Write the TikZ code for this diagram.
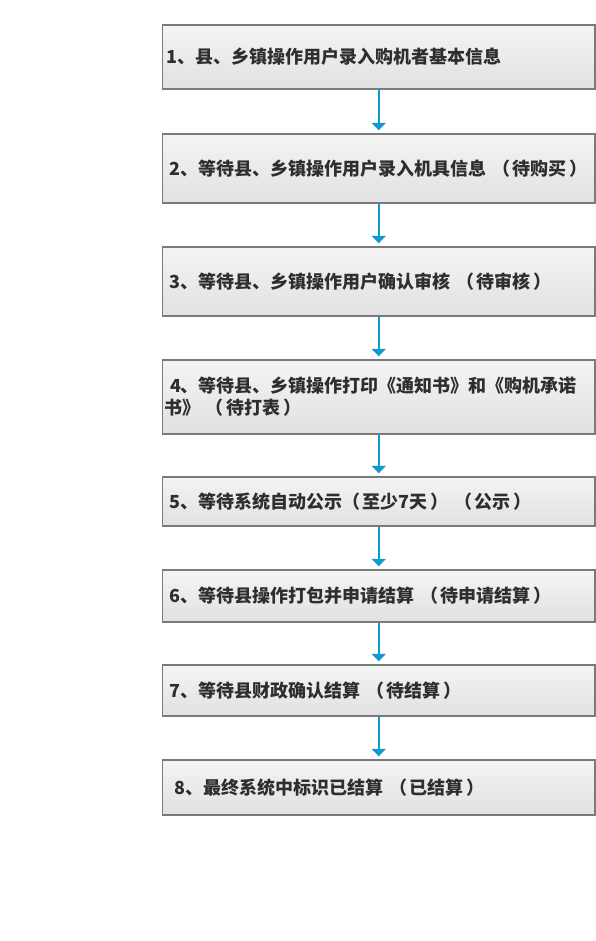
\documentclass[tikz,border=0pt]{standalone}
\usepackage{fontspec}
\setmainfont{Noto Sans CJK SC}
\usetikzlibrary{arrows.meta}
\definecolor{boxline}{HTML}{7A7A7A}
\definecolor{boxtop}{HTML}{F4F4F4}
\definecolor{boxbot}{HTML}{E1E1E1}
\definecolor{arrowblue}{HTML}{0C9AD0}
\definecolor{txt}{HTML}{2E2E2E}
\newcommand{\ps}{\hspace{2.5pt}}
\tikzset{
  stepbox/.style={draw=boxline, line width=1.4pt, top color=boxtop, bottom color=boxbot,
    minimum width=432.5pt, text width=424.5pt, inner xsep=4pt, inner ysep=0pt, align=left,
    text=txt, font=\fontsize{18}{22}\selectfont\bfseries},
  flow/.style={draw=arrowblue, line width=2pt, -{Triangle[width=14pt,length=7.5pt]}, shorten >=3pt}
}
\begin{document}
\begin{tikzpicture}[x=1pt,y=-1pt]
\useasboundingbox (0,0) rectangle (596,941);
\node[stepbox, minimum height=64pt] (b1) at (378.75,57) {1、县、乡镇操作用户录入购机者基本信息};
\node[stepbox, minimum height=69pt] (b2) at (378.75,168.5) {\mbox{\hspace*{3pt}2、等待县、乡镇操作用户录入机具信息 （\ps 待购买\ps ）}};
\node[stepbox, minimum height=69pt] (b3) at (378.75,281.5) {\hspace*{3pt}3、等待县、乡镇操作用户确认审核 （\ps 待审核\ps ）};
\node[stepbox, minimum height=74pt, inner xsep=1.5pt, text width=429.5pt] (b4) at (378.75,397) {\hspace*{6pt}4、等待县、乡镇操作打印《通知书》和《购机承诺\\书》 （\ps 待打表\ps ）};
\node[stepbox, minimum height=49pt] (b5) at (378.75,501.5) {\hspace*{3pt}5、等待系统自动公示（\ps 至少7天\ps ） （\ps 公示\ps ）};
\node[stepbox, minimum height=52pt] (b6) at (378.75,596) {\hspace*{3pt}6、等待县操作打包并申请结算 （\ps 待申请结算\ps ）};
\node[stepbox, minimum height=51pt] (b7) at (378.75,690.5) {\hspace*{3pt}7、等待县财政确认结算 （\ps 待结算\ps ）};
\node[stepbox, minimum height=55pt] (b8) at (378.75,787.5) {\hspace*{8pt}8、最终系统中标识已结算 （\ps 已结算\ps ）};
\foreach \a/\b in {b1/b2,b2/b3,b3/b4,b4/b5,b5/b6,b6/b7,b7/b8}
  \draw[flow] (\a.south) -- (\b.north);
\end{tikzpicture}
\end{document}
